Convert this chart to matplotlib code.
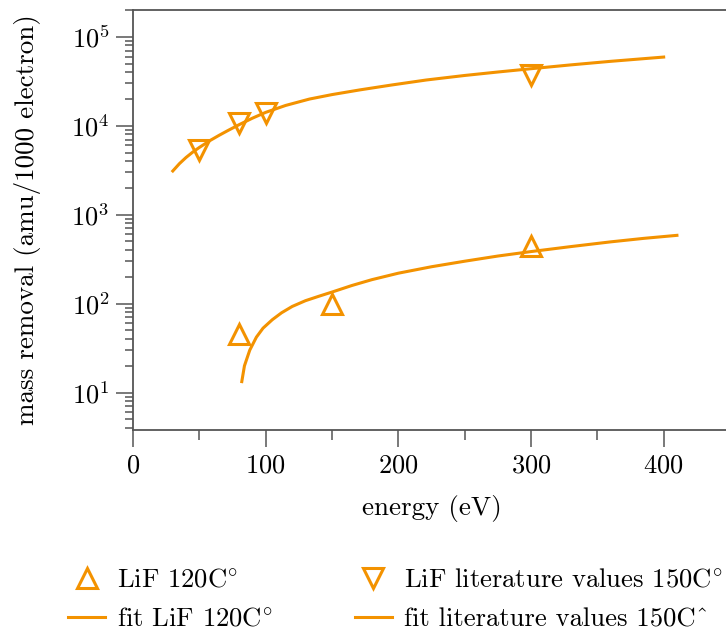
import matplotlib
matplotlib.use('Agg')
import matplotlib.pyplot as plt

plt.rcParams['font.family'] = ['cmr10', 'DejaVu Serif']
plt.rcParams['mathtext.fontset'] = 'cm'
plt.rcParams['axes.formatter.use_mathtext'] = True

# data
lif_e = [80, 150, 300]
lif_m = [45.7, 100, 447]

lit_e = [50, 80, 100, 300]
lit_m = [5310, 10670, 13900, 37400]

# fit curves
fit_lif_e = [82, 84, 88, 93, 98, 105, 112, 120, 130, 140, 150, 165, 180, 200,
             225, 250, 275, 300, 330, 360, 385, 410]
fit_lif_m = [13.3, 20, 30, 42, 53, 66, 79, 93, 108, 121, 135, 160, 186, 220,
             260, 300, 343, 385, 438, 495, 542, 586]

fit_lit_e = [30, 35, 40, 45, 50, 58, 65, 72, 80, 90, 100, 115, 133, 150, 171,
             195, 221, 250, 275, 300, 330, 360, 400]
fit_lit_m = [3100, 3750, 4400, 5050, 5700, 6810, 7820, 8910, 10280, 12160, 14130,
             16900, 19950, 22390, 25290, 28710, 32660, 36730, 40180, 43750,
             48310, 52970, 59160]

orange = '#f39200'
spine_c = '#555555'

fig = plt.figure(figsize=(7.26, 6.34), dpi=100)
ax = fig.add_axes([133/726, 204/634, 597/726, 420/634])

l1, = ax.plot(lif_e, lif_m, linestyle='none', marker='^', ms=15, mfc='none',
              mec=orange, mew=2.2, label=r'LiF 120C$^{\circ}$')
l2, = ax.plot(fit_lif_e, fit_lif_m, color=orange, lw=2.2, label=r'fit LiF 120C$^{\circ}$')
l3, = ax.plot(lit_e, lit_m, linestyle='none', marker='v', ms=15, mfc='none',
              mec=orange, mew=2.2, label=r'LiF literature values 150C$^{\circ}$')
l4, = ax.plot(fit_lit_e, fit_lit_m, color=orange, lw=2.2, label='fit literature values 150C^')

ax.set_yscale('log')
ax.set_xlim(0, 450)
ax.set_ylim(3.8, 2e5)
ax.set_xticks([0, 100, 200, 300, 400])
ax.set_xticks([50, 150, 250, 350, 450], minor=True)

for s in ax.spines.values():
    s.set_color(spine_c)
    s.set_linewidth(1.3)
ax.tick_params(which='major', length=12, width=1.1, color=spine_c, labelsize=19, pad=5)
ax.tick_params(which='minor', length=6, width=1.1, color=spine_c)
ax.tick_params(axis='x', which='minor', length=7)

ax.set_xlabel('energy (eV)', fontsize=19.5, labelpad=13)
ax.set_ylabel('mass removal (amu/1000 electron)', fontsize=19.5, labelpad=22)

fig.legend(handles=[l1, l2, l3, l4], ncol=2, frameon=False, fontsize=19.2,
           loc='upper left', bbox_to_anchor=(44/726, 1 - 545/634),
           handlelength=1.39, handletextpad=0.46, columnspacing=3.07,
           labelspacing=0.55)

fig.savefig('out.png', dpi=100)
